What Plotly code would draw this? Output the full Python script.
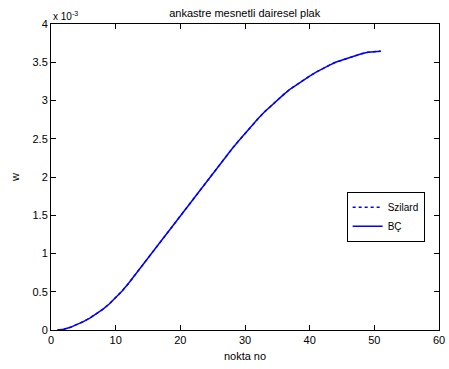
import plotly.graph_objects as go

# nokta no (point number)
nokta = list(range(1, 52))
# w values, in units of 1e-3
w_szilard = [0.0, 0.01, 0.035, 0.07, 0.11, 0.155, 0.21, 0.27, 0.34, 0.42,
             0.51, 0.61, 0.72, 0.83, 0.945, 1.06, 1.17, 1.28, 1.39, 1.50,
             1.61, 1.72, 1.83, 1.94, 2.05, 2.16, 2.27, 2.37, 2.47, 2.57,
             2.67, 2.76, 2.85, 2.93, 3.01, 3.08, 3.15, 3.21, 3.27, 3.32,
             3.37, 3.42, 3.46, 3.50, 3.53, 3.56, 3.59, 3.61, 3.63, 3.64, 3.645]
w_bc = list(w_szilard)

x_ticks = [0, 10, 20, 30, 40, 50, 60]
y_ticks = [0, 0.5, 1, 1.5, 2, 2.5, 3, 3.5, 4]
y_ticktext = ["0", "0.5", "1", "1.5", "2", "2.5", "3", "3.5", "4"]

font_family = "Liberation Sans, Arial, sans-serif"

fig = go.Figure()
fig.add_trace(go.Scatter(x=nokta, y=w_szilard, mode="lines", name="Szilard",
                         line=dict(color="#0000ff", width=1.5, dash="dot")))
fig.add_trace(go.Scatter(x=nokta, y=w_bc, mode="lines", name="BÇ",
                         line=dict(color="#0000ff", width=1.5)))

axis_common = dict(showgrid=False, zeroline=False, showline=True, linecolor="black",
                   linewidth=1, mirror="ticks", ticks="inside", ticklen=5,
                   tickcolor="black", ticklabeloverflow="allow",
                   tickfont=dict(size=11, color="black", family=font_family))

fig.update_layout(
    width=449, height=369,
    margin=dict(l=51, r=4, t=24, b=39),
    paper_bgcolor="white", plot_bgcolor="white",
    font=dict(family=font_family, size=11, color="black"),
    title=dict(text="ankastre mesnetli dairesel plak", x=0.545, xanchor="center",
               y=0.975, yanchor="top", font=dict(size=11, color="black")),
    xaxis=dict(range=[0, 60], tickvals=x_ticks,
               title=dict(text="nokta no", standoff=7, font=dict(size=11)), **axis_common),
    yaxis=dict(range=[0, 4], tickvals=y_ticks, ticktext=y_ticktext,
               title=dict(text="w", standoff=10, font=dict(size=11)), **axis_common),
    legend=dict(x=0.762, y=0.37, xanchor="left", yanchor="middle",
                bordercolor="black", borderwidth=1, bgcolor="white",
                font=dict(size=10, color="black"), tracegroupgap=0,
                itemwidth=30),
    showlegend=True,
)

fig.add_annotation(text="x 10<sup>-3</sup>", xref="paper", yref="paper",
                   x=0, y=1, xanchor="left", yanchor="bottom", showarrow=False,
                   font=dict(size=10, color="black"), xshift=0, yshift=0)

fig.write_html("out.html")
